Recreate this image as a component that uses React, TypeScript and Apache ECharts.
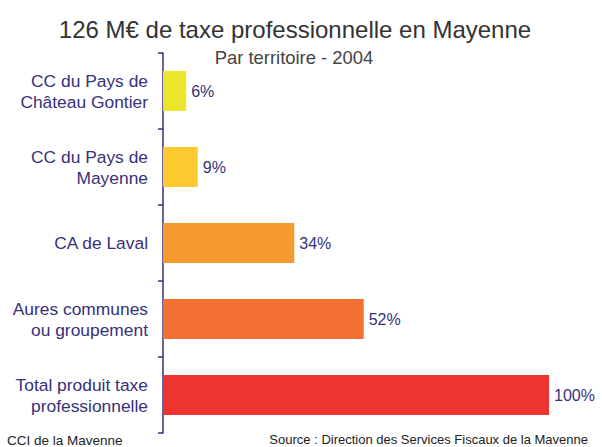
import React, { useEffect, useRef } from "react";
import * as echarts from "echarts";

const categories = [
  "CC du Pays de\nChâteau Gontier",
  "CC du Pays de\nMayenne",
  "CA de Laval",
  "Aures communes\nou groupement",
  "Total produit taxe\nprofessionnelle",
];
const values = [6, 9, 34, 52, 100];
const colors = ["#EBE62B", "#FEC92E", "#F6992F", "#F27031", "#EE3431"];

const NAVY = "#36317A";

export default function App() {
  const ref = useRef<HTMLDivElement>(null);
  useEffect(() => {
    const chart = echarts.init(ref.current!, undefined, { renderer: "svg" });
    chart.setOption({
      animation: false,
      backgroundColor: "#ffffff",
      title: [
        {
          text: "126 M€ de taxe professionnelle en Mayenne",
          left: 290,
          textAlign: "center",
          top: 12,
          textStyle: { fontFamily: "Liberation Sans", fontWeight: "normal", fontSize: 24, color: "#333333" },
        },
        {
          text: "Par territoire - 2004",
          left: 289,
          textAlign: "center",
          top: 43,
          textStyle: { fontFamily: "Liberation Sans", fontWeight: "normal", fontSize: 18.4, color: "#444444" },
        },
      ],
      graphic: [
        {
          type: "text",
          left: 7,
          top: 433,
          style: { text: "CCI de la Mavenne", font: "13.5px 'Liberation Sans'", fill: "#222222" },
        },
        {
          type: "text",
          right: 14,
          top: 433,
          style: { text: "Source : Direction des Services Fiscaux de la Mavenne", font: "13px 'Liberation Sans'", fill: "#222222" },
        },
      ],
      grid: { left: 163, right: 53, top: 53, bottom: 14, containLabel: false },
      xAxis: { type: "value", min: 0, max: 100, show: false },
      yAxis: {
        type: "category",
        inverse: true,
        data: categories,
        axisLine: { show: true, lineStyle: { color: NAVY, width: 1.5 } },
        axisTick: { show: true, length: 5, lineStyle: { color: NAVY, width: 1.5 } },
        axisLabel: {
          margin: 15,
          color: NAVY,
          fontFamily: "Liberation Sans",
          fontSize: 17.4,
          lineHeight: 21,
          align: "right",
        },
      },
      series: [
        {
          type: "bar",
          data: values.map((v, i) => ({ value: v, itemStyle: { color: colors[i] } })),
          barWidth: 40,
          label: {
            show: true,
            position: "right",
            distance: 5,
            formatter: "{c}%",
            color: NAVY,
            fontFamily: "Liberation Sans",
            fontSize: 16,
          },
        },
      ],
    });
    return () => chart.dispose();
  }, []);
  return <div ref={ref} style={{ width: 602, height: 447, position: "absolute", left: 0, top: 0 }} />;
}
